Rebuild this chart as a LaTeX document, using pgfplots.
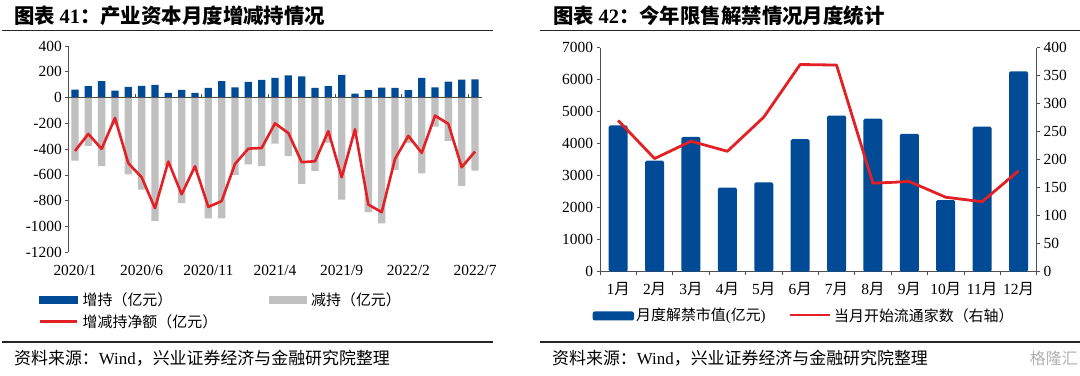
\documentclass[border=0pt]{standalone}
\usepackage{fontspec}
\setmainfont{Liberation Serif}
\newfontfamily\cjk{Noto Sans CJK SC}
\usepackage{pgfplots}
\usepackage{pgfplotstable}
\pgfplotsset{compat=1.18}
\definecolor{cblue}{RGB}{0,74,150}
\definecolor{cgray}{RGB}{192,192,192}
\definecolor{cred}{RGB}{228,32,36}
\definecolor{caxis}{RGB}{80,80,80}

\pgfplotstableread{
idx incr decr net
0 62 -489 -414
1 88 -375 -282
2 127 -532 -398
3 54 -212 -158
4 83 -595 -509
5 90 -713 -618
6 98 -959 -858
7 36 -532 -496
8 59 -819 -750
9 36 -569 -533
10 76 -936 -848
11 127 -936 -803
12 79 -600 -515
13 121 -519 -396
14 137 -531 -391
15 153 -357 -200
16 173 -455 -275
17 165 -670 -501
18 75 -571 -494
19 88 -350 -261
20 176 -791 -618
21 31 -277 -246
22 57 -889 -830
23 78 -975 -889
24 75 -561 -476
25 57 -354 -297
26 153 -587 -429
27 80 -225 -140
28 124 -336 -204
29 140 -685 -540
30 142 -566 -419
}\leftdata

\pgfplotstableread{
m val cnt
1 4570 270
2 3470 202
3 4210 233
4 2630 215
5 2790 276
6 4140 370
7 4880 369
8 4780 158
9 4310 161
10 2240 133
11 4530 125
12 6260 180
}\rightdata

\newcommand{\tickfont}{\fontsize{15.5}{18}\selectfont}
\newcommand{\legfont}{\fontsize{15}{17}\selectfont}

\begin{document}
\begin{tikzpicture}
\useasboundingbox[fill=white] (0,0) rectangle (1080bp,376bp);

% ---------------- Left chart ----------------
\begin{axis}[
  at={(68.3bp,123.7bp)}, anchor=south west, scale only axis,
  width=413.4bp, height=206.3bp,
  xmin=-0.5, xmax=30.5, ymin=-1200, ymax=400,
  axis y line*=left, axis x line*=bottom,
  x axis line style={draw=none},
  y axis line style={caxis, line width=0.8bp},
  xtick={0,5,10,15,20,25,30},
  xticklabels={2020/1,2020/6,2020/11,2021/4,2021/9,2022/2,2022/7},
  x tick style={draw=none},
  ytick={-1200,-1000,...,400},
  y tick style={caxis, line width=0.8bp},
  tick align=outside, major tick length=3bp,
  tick label style={font=\tickfont},
  yticklabel style={/pgf/number format/assume math mode=true, /pgf/number format/1000 sep={}},
  scaled y ticks=false,
  xticklabel style={yshift=-6bp},
  clip=false,
]
\addplot[ybar, bar width=7.3bp, bar shift=0pt, fill=cgray, draw=none] table[x=idx, y=decr] {\leftdata};
\addplot[ybar, bar width=7.3bp, bar shift=0pt, fill=cblue, draw=none] table[x=idx, y=incr] {\leftdata};
\draw[caxis, line width=0.8bp] (axis cs:-0.5,0) -- (axis cs:30.5,0);
\pgfplotsinvokeforeach{4.5,9.5,14.5,19.5,24.5,29.5}{\draw[caxis, line width=0.8bp] (axis cs:#1,0) -- (axis cs:#1,28);}
\addplot[cred, line width=2.6bp, mark=none, line join=round] table[x=idx, y=net] {\leftdata};
\end{axis}

% ---------------- Right chart (bars) ----------------
\begin{axis}[
  at={(600bp,104.3bp)}, anchor=south west, scale only axis,
  width=436.7bp, height=224bp,
  xmin=0.5, xmax=12.5, ymin=0, ymax=7000,
  axis y line*=left, axis x line*=bottom,
  axis line style={caxis, line width=0.8bp},
  xtick={0.5,1.5,...,12.5},
  x tick label as interval,
  xticklabels={1{\cjk 月},2{\cjk 月},3{\cjk 月},4{\cjk 月},5{\cjk 月},6{\cjk 月},7{\cjk 月},8{\cjk 月},9{\cjk 月},10{\cjk 月},11{\cjk 月},12{\cjk 月}},
  ytick={0,1000,...,7000},
  tick style={caxis, line width=0.8bp},
  tick align=outside, major tick length=3.5bp,
  tick label style={font=\tickfont},
  yticklabel style={/pgf/number format/assume math mode=true, /pgf/number format/1000 sep={}},
  scaled y ticks=false,
  xticklabel style={yshift=-4bp},
]
\addplot[ybar, bar width=19bp, bar shift=0pt, fill=cblue, draw=none, rounded corners=1.5bp] table[x=m, y=val] {\rightdata};
\end{axis}

% ---------------- Right chart (line, right axis) ----------------
\begin{axis}[
  at={(600bp,104.3bp)}, anchor=south west, scale only axis,
  width=436.7bp, height=224bp,
  xmin=0.5, xmax=12.5, ymin=0, ymax=400,
  axis y line*=right, axis x line=none,
  axis line style={caxis, line width=0.8bp},
  ytick={0,50,...,400},
  tick style={caxis, line width=0.8bp},
  tick align=outside, major tick length=3.5bp,
  tick label style={font=\tickfont},
  yticklabel style={/pgf/number format/assume math mode=true, /pgf/number format/1000 sep={}},
  scaled y ticks=false,
]
\addplot[cred, line width=2.8bp, mark=none, line join=round] table[x=m, y=cnt] {\rightdata};
\end{axis}

% ---------------- Titles and rules ----------------
\node[anchor=west, inner sep=0pt] at (14bp,360bp) {\fontsize{20.5}{24}\selectfont\bfseries{\cjk 图表 }41{\cjk ：产业资本月度增减持情况}};
\node[anchor=west, inner sep=0pt] at (553bp,360bp) {\fontsize{20.5}{24}\selectfont\bfseries{\cjk 图表 }42{\cjk ：今年限售解禁情况月度统计}};
\draw[black!85, line width=1.3bp] (2bp,345.5bp) -- (493bp,345.5bp);
\draw[black!85, line width=1.3bp] (540bp,345.5bp) -- (1080bp,345.5bp);
\draw[black!85, line width=1.3bp] (2bp,34bp) -- (493bp,34bp);
\draw[black!85, line width=1.3bp] (540bp,34bp) -- (1080bp,34bp);

% ---------------- Legends ----------------
\fill[cblue] (39.3bp,72bp) rectangle (78.3bp,80bp);
\node[anchor=west, inner sep=0pt] at (82.5bp,76bp) {\legfont\cjk 增持（亿元）};
\fill[cgray] (269bp,72bp) rectangle (306.7bp,80bp);
\node[anchor=west, inner sep=0pt] at (311bp,76bp) {\legfont\cjk 减持（亿元）};
\draw[cred, line width=2.6bp] (40bp,54.3bp) -- (77bp,54.3bp);
\node[anchor=west, inner sep=0pt] at (82.5bp,54.3bp) {\legfont\cjk 增减持净额（亿元）};

\fill[cblue, rounded corners=2bp] (592.7bp,55.5bp) rectangle (634bp,64.5bp);
\node[anchor=west, inner sep=0pt] at (636bp,60bp) {\fontsize{15}{17}\selectfont{\cjk 月度解禁市值}({\cjk 亿元})};
\draw[cred, line width=2.8bp] (790bp,61bp) -- (830bp,61bp);
\node[anchor=west, inner sep=0pt] at (834bp,60bp) {\fontsize{15}{17}\selectfont\cjk 当月开始流通家数（右轴）};

% ---------------- Sources ----------------
\node[anchor=west, inner sep=0pt] at (14bp,18bp) {\fontsize{17}{20}\selectfont{\cjk 资料来源：}Wind{\cjk ，兴业证券经济与金融研究院整理}};
\node[anchor=west, inner sep=0pt] at (552bp,18bp) {\fontsize{17}{20}\selectfont{\cjk 资料来源：}Wind{\cjk ，兴业证券经济与金融研究院整理}};
\node[anchor=east, inner sep=0pt, text=black!30] at (1078bp,18bp) {\fontsize{16}{19}\selectfont\cjk 格隆汇};
\end{tikzpicture}
\end{document}
